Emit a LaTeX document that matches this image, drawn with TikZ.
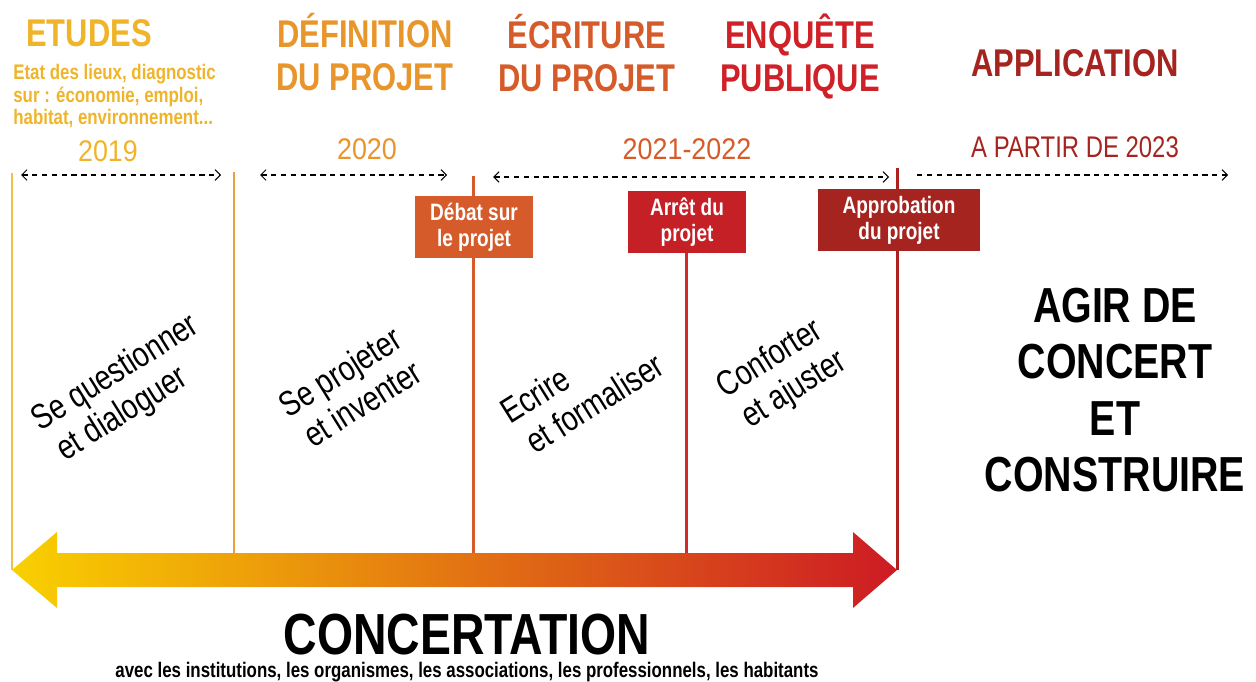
\documentclass[tikz,border=0pt]{standalone}
\usepackage{fontspec}
\setmainfont{Liberation Sans}[FakeStretch=0.8]
\newfontfamily\largefont{Liberation Sans}[FakeStretch=0.9]
\usetikzlibrary{arrows.meta}

\definecolor{etudes}{HTML}{F0B42A}
\definecolor{definition}{HTML}{E8952B}
\definecolor{ecriture}{HTML}{D65B2A}
\definecolor{enquete}{HTML}{CF2228}
\definecolor{application}{HTML}{A52420}
\definecolor{jaune}{HTML}{F9D000}
\definecolor{orange}{HTML}{DF6E1F}
\definecolor{rouge}{HTML}{CD1B24}

\tikzset{
  titre/.style={font=\bfseries\fontsize{22}{25}\selectfont, align=center, anchor=base, inner sep=0pt},
  annee/.style={font=\largefont\fontsize{17}{20}\selectfont, anchor=base, inner sep=0pt},
  periode/.style={dash pattern=on 3pt off 2.6pt, line width=0.6pt},
  repere/.style={line width=1.7pt},
  etape/.style={fill=#1, text=white, font=\bfseries\fontsize{13.5}{14.7}\selectfont,
    align=center, inner sep=0pt, minimum width=2.36cm, minimum height=1.24cm},
  verbe/.style={font=\fontsize{20}{22}\selectfont, rotate=32, align=left, inner sep=0pt},
  >={Straight Barb[length=3pt,width=6pt]}
}

\begin{document}
\begin{tikzpicture}[x=0.02cm,y=-0.02cm]
    \useasboundingbox (0,0) rectangle (1256,682);
    % titres des phases
    \node[titre, text=etudes] (etudes) at (89,47) {ETUDES};
    \node[titre, text=definition] (definition) at (365,91) {DÉFINITION\\DU PROJET};
    \node[titre, text=ecriture] (ecriture) at (587,92) {ÉCRITURE\\DU PROJET};
    \node[titre, text=enquete] (enquete) at (800,92) {ENQUÊTE\\PUBLIQUE};
    \node[titre, text=application] (application) at (1075,77) {APPLICATION};
    \node[text=etudes, font=\bfseries\fontsize{12}{13}\selectfont, align=left, anchor=base west, inner sep=0pt]
        (diagnostic) at (13,125) {Etat des lieux, diagnostic\\sur : économie, emploi,\\habitat, environnement...};
    % annees
    \node[annee, text=etudes] (a2019) at (108,162) {2019};
    \node[annee, text=definition] (a2020) at (367,160) {2020};
    \node[annee, text=ecriture] (a2021) at (687,160) {2021-2022};
    \node[annee, text=application, font=\fontsize{17}{20}\selectfont] (a2023) at (1075,158) {A PARTIR DE 2023};
    % periodes
    \coordinate (p1a) at (21,175); \coordinate (p1b) at (221,175);
    \coordinate (p2a) at (260,175); \coordinate (p2b) at (447,175);
    \coordinate (p3a) at (493,177); \coordinate (p3b) at (889,177);
    \coordinate (p4a) at (917,175); \coordinate (p4b) at (1228,175);
    \draw[periode, <->] (p1a) -- (p1b);
    \draw[periode, <->] (p2a) -- (p2b);
    \draw[periode, <->] (p3a) -- (p3b);
    \draw[periode, ->] (p4a) -- (p4b);
    % reperes verticaux
    \draw[repere, color=etudes!85!white] (12,173) -- (12,570);
    \draw[repere, color=definition!90!white] (234,172) -- (234,553);
    \draw[repere, color=ecriture] (473,176) -- (473,553);
    \draw[repere, color=enquete!90!orange] (686,252) -- (686,553);
    \draw[repere, color=application!90!red] (897,168) -- (897,570);
    % etapes
    \node[etape=ecriture] (debat) at (474,227) {Débat sur\\le projet};
    \node[etape=enquete!95!black] (arret) at (687,222) {Arrêt du\\projet};
    \node[etape=application, minimum width=3.24cm, minimum height=1.26cm] (approbation) at (899,220) {Approbation\\du projet};
    % verbes
    \node[verbe] (questionner) at (126,390) {Se questionner\\\hspace{0.15em}et dialoguer};
    \node[verbe] (projeter) at (350,388) {Se projeter\\\hspace{0.15em}et inventer};
    \node[verbe] (ecrire) at (582,388) {Ecrire\\\hspace{0.15em}et formaliser};
    \node[verbe] (conforter) at (782,375) {Conforter\\\hspace{0.15em}et ajuster};
    \node[font=\bfseries\fontsize{28}{32}\selectfont, align=center] (agir) at (1115,390)
        {AGIR DE\\CONCERT\\ET\\CONSTRUIRE};
    % fleche de concertation
    \shade[left color=jaune, middle color=orange, right color=rouge]
        (12,570) -- (57,532) -- (57,553) -- (853,553) -- (853,532) -- (897,570)
        -- (853,608) -- (853,587) -- (57,587) -- (57,608) -- cycle;
    \node[font=\bfseries\fontsize{33}{36}\selectfont, anchor=base, inner sep=0pt] (concertation) at (467,654) {CONCERTATION};
    \node[font=\bfseries\fontsize{12}{14}\selectfont, anchor=base, inner sep=0pt] (acteurs) at (467,677)
        {avec les institutions, les organismes, les associations, les professionnels, les habitants};
\end{tikzpicture}
\end{document}
